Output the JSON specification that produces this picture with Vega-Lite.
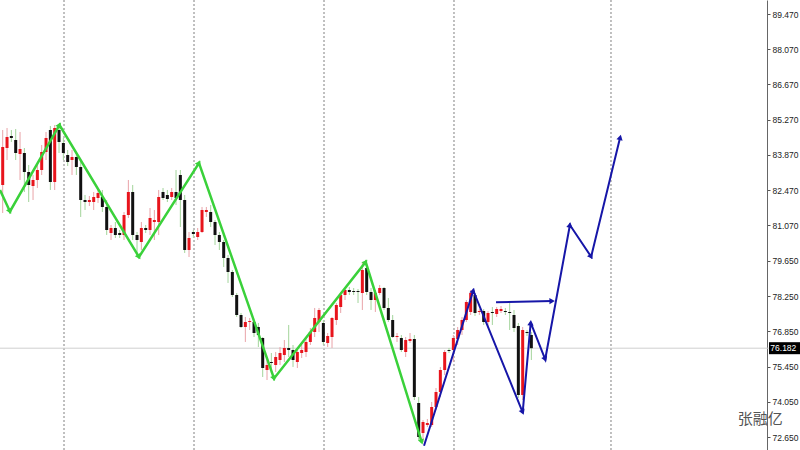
{
  "$schema": "https://vega.github.io/schema/vega-lite/v6.json",
  "width": 800,
  "height": 450,
  "autosize": {"type": "none"},
  "padding": 0,
  "background": "white",
  "config": {"view": {"stroke": null}, "font": "Liberation Sans", "axis": {"labelOverlap": false}},
  "datasets": {
    "candles": [
      {"t":0,"o":82.672,"h":84.858,"l":81.558,"c":84.182},
      {"t":1,"o":84.142,"h":84.938,"l":83.665,"c":84.580},
      {"t":2,"o":84.620,"h":84.858,"l":84.381,"c":84.540},
      {"t":3,"o":84.461,"h":84.898,"l":83.665,"c":83.944},
      {"t":4,"o":83.904,"h":84.779,"l":82.870,"c":84.103},
      {"t":5,"o":83.944,"h":84.142,"l":82.393,"c":83.188},
      {"t":6,"o":83.188,"h":83.467,"l":81.995,"c":82.672},
      {"t":7,"o":82.632,"h":83.069,"l":82.075,"c":82.870},
      {"t":8,"o":82.870,"h":83.467,"l":82.552,"c":83.268},
      {"t":9,"o":83.268,"h":84.262,"l":83.069,"c":83.983},
      {"t":10,"o":83.983,"h":84.779,"l":83.665,"c":84.540},
      {"t":11,"o":84.858,"h":85.017,"l":82.473,"c":82.791},
      {"t":12,"o":82.791,"h":85.057,"l":82.473,"c":84.938},
      {"t":13,"o":84.858,"h":85.057,"l":83.944,"c":84.381},
      {"t":14,"o":84.341,"h":84.540,"l":83.665,"c":83.944},
      {"t":15,"o":83.864,"h":84.063,"l":83.427,"c":83.586},
      {"t":16,"o":83.665,"h":84.063,"l":83.069,"c":83.785},
      {"t":17,"o":83.785,"h":83.983,"l":83.069,"c":83.387},
      {"t":18,"o":83.387,"h":83.665,"l":81.399,"c":82.075},
      {"t":19,"o":82.075,"h":82.274,"l":81.677,"c":81.995},
      {"t":20,"o":81.995,"h":82.234,"l":81.836,"c":82.075},
      {"t":21,"o":81.995,"h":82.393,"l":81.677,"c":82.194},
      {"t":22,"o":82.154,"h":82.552,"l":81.956,"c":82.353},
      {"t":23,"o":82.194,"h":82.473,"l":81.598,"c":81.797},
      {"t":24,"o":81.797,"h":82.075,"l":80.683,"c":80.882},
      {"t":25,"o":80.763,"h":81.081,"l":80.484,"c":80.962},
      {"t":26,"o":80.962,"h":81.200,"l":80.564,"c":80.683},
      {"t":27,"o":80.763,"h":80.882,"l":80.564,"c":80.683},
      {"t":28,"o":80.683,"h":81.598,"l":80.484,"c":81.479},
      {"t":29,"o":81.479,"h":82.870,"l":81.359,"c":82.393},
      {"t":30,"o":82.393,"h":82.672,"l":80.484,"c":80.683},
      {"t":31,"o":80.683,"h":80.803,"l":79.888,"c":80.484},
      {"t":32,"o":80.405,"h":81.200,"l":80.087,"c":80.962},
      {"t":33,"o":80.962,"h":81.081,"l":80.763,"c":80.882},
      {"t":34,"o":80.882,"h":81.757,"l":80.683,"c":81.359},
      {"t":35,"o":81.200,"h":81.677,"l":80.484,"c":81.280},
      {"t":36,"o":81.200,"h":82.473,"l":80.683,"c":82.194},
      {"t":37,"o":82.393,"h":82.552,"l":82.075,"c":82.154},
      {"t":38,"o":82.274,"h":82.473,"l":81.995,"c":82.115},
      {"t":39,"o":82.194,"h":82.552,"l":82.075,"c":82.393},
      {"t":40,"o":82.393,"h":83.268,"l":81.876,"c":82.154},
      {"t":41,"o":83.069,"h":83.268,"l":81.001,"c":82.075},
      {"t":42,"o":82.075,"h":82.274,"l":79.968,"c":80.087},
      {"t":43,"o":80.087,"h":80.803,"l":79.808,"c":80.564},
      {"t":44,"o":80.803,"h":80.882,"l":80.564,"c":80.723},
      {"t":45,"o":80.604,"h":80.962,"l":80.484,"c":80.803},
      {"t":46,"o":80.803,"h":81.797,"l":80.763,"c":81.677},
      {"t":47,"o":81.598,"h":81.797,"l":81.399,"c":81.677},
      {"t":48,"o":81.598,"h":81.876,"l":81.001,"c":81.200},
      {"t":49,"o":81.200,"h":81.280,"l":80.286,"c":80.683},
      {"t":50,"o":80.683,"h":80.803,"l":80.087,"c":80.405},
      {"t":51,"o":80.405,"h":80.484,"l":79.411,"c":79.769},
      {"t":52,"o":79.769,"h":79.888,"l":78.775,"c":79.212},
      {"t":53,"o":79.212,"h":79.291,"l":78.218,"c":78.298},
      {"t":54,"o":78.298,"h":78.377,"l":77.423,"c":77.502},
      {"t":55,"o":77.502,"h":77.582,"l":76.985,"c":77.025},
      {"t":56,"o":77.025,"h":77.423,"l":76.429,"c":77.224},
      {"t":57,"o":77.224,"h":77.383,"l":76.906,"c":77.264},
      {"t":58,"o":77.224,"h":77.303,"l":76.627,"c":76.786},
      {"t":59,"o":77.025,"h":77.184,"l":76.230,"c":76.707},
      {"t":60,"o":76.588,"h":76.627,"l":75.037,"c":75.395},
      {"t":61,"o":75.315,"h":75.713,"l":74.917,"c":75.514},
      {"t":62,"o":75.633,"h":75.991,"l":75.196,"c":75.594},
      {"t":63,"o":75.514,"h":76.031,"l":75.236,"c":75.832},
      {"t":64,"o":75.713,"h":76.230,"l":75.514,"c":75.991},
      {"t":65,"o":75.912,"h":76.508,"l":75.633,"c":76.190},
      {"t":66,"o":76.190,"h":77.105,"l":75.832,"c":76.110},
      {"t":67,"o":76.110,"h":76.309,"l":75.435,"c":75.713},
      {"t":68,"o":75.633,"h":76.190,"l":75.395,"c":76.031},
      {"t":69,"o":75.991,"h":76.309,"l":75.792,"c":76.110},
      {"t":70,"o":76.031,"h":76.588,"l":75.832,"c":76.429},
      {"t":71,"o":76.429,"h":76.985,"l":76.309,"c":76.826},
      {"t":72,"o":76.826,"h":77.781,"l":76.627,"c":77.383},
      {"t":73,"o":77.224,"h":77.781,"l":76.826,"c":77.701},
      {"t":74,"o":77.184,"h":77.303,"l":76.309,"c":76.429},
      {"t":75,"o":76.389,"h":76.786,"l":76.230,"c":76.667},
      {"t":76,"o":76.627,"h":77.423,"l":76.190,"c":77.383},
      {"t":77,"o":77.303,"h":77.979,"l":77.105,"c":77.900},
      {"t":78,"o":77.820,"h":78.417,"l":77.582,"c":78.298},
      {"t":79,"o":78.298,"h":78.576,"l":78.098,"c":78.496},
      {"t":80,"o":78.496,"h":78.616,"l":78.298,"c":78.417},
      {"t":81,"o":78.457,"h":78.576,"l":78.298,"c":78.417},
      {"t":82,"o":78.457,"h":78.536,"l":77.979,"c":78.417},
      {"t":83,"o":78.377,"h":79.610,"l":77.701,"c":79.291},
      {"t":84,"o":79.371,"h":79.490,"l":78.298,"c":78.417},
      {"t":85,"o":78.417,"h":78.576,"l":77.701,"c":78.098},
      {"t":86,"o":78.098,"h":78.496,"l":77.622,"c":78.377},
      {"t":87,"o":78.377,"h":78.695,"l":78.298,"c":78.576},
      {"t":88,"o":78.576,"h":78.616,"l":77.701,"c":77.781},
      {"t":89,"o":77.781,"h":78.178,"l":77.224,"c":77.303},
      {"t":90,"o":77.303,"h":77.502,"l":76.588,"c":76.627},
      {"t":91,"o":76.627,"h":76.786,"l":76.429,"c":76.667},
      {"t":92,"o":76.588,"h":76.707,"l":76.031,"c":76.110},
      {"t":93,"o":76.031,"h":76.627,"l":75.832,"c":76.508},
      {"t":94,"o":76.468,"h":76.786,"l":76.389,"c":76.548},
      {"t":95,"o":76.548,"h":76.707,"l":74.122,"c":74.241},
      {"t":96,"o":74.003,"h":74.241,"l":72.531,"c":72.651},
      {"t":97,"o":72.809,"h":73.327,"l":72.452,"c":73.247},
      {"t":98,"o":73.128,"h":73.366,"l":73.048,"c":73.207},
      {"t":99,"o":73.128,"h":74.043,"l":73.048,"c":73.844},
      {"t":100,"o":73.844,"h":74.599,"l":73.724,"c":74.440},
      {"t":101,"o":74.440,"h":75.435,"l":74.241,"c":75.315},
      {"t":102,"o":75.315,"h":76.110,"l":75.116,"c":76.031},
      {"t":103,"o":76.110,"h":76.190,"l":75.991,"c":76.071},
      {"t":104,"o":76.110,"h":76.707,"l":75.633,"c":76.588},
      {"t":105,"o":76.548,"h":77.025,"l":76.309,"c":76.906},
      {"t":106,"o":76.906,"h":77.423,"l":76.707,"c":77.303},
      {"t":107,"o":77.303,"h":78.098,"l":77.224,"c":78.019},
      {"t":108,"o":77.622,"h":78.496,"l":77.502,"c":78.377},
      {"t":109,"o":78.298,"h":78.377,"l":77.463,"c":77.582},
      {"t":110,"o":77.622,"h":77.741,"l":77.502,"c":77.661},
      {"t":111,"o":77.661,"h":77.741,"l":77.105,"c":77.224},
      {"t":112,"o":77.224,"h":77.661,"l":77.025,"c":77.582},
      {"t":113,"o":77.622,"h":77.820,"l":77.105,"c":77.582},
      {"t":114,"o":77.542,"h":77.820,"l":77.423,"c":77.741},
      {"t":115,"o":77.661,"h":77.860,"l":77.582,"c":77.741},
      {"t":116,"o":77.661,"h":77.781,"l":77.502,"c":77.622},
      {"t":117,"o":77.622,"h":77.979,"l":76.906,"c":77.582},
      {"t":118,"o":77.502,"h":77.701,"l":76.826,"c":76.985},
      {"t":119,"o":77.065,"h":77.184,"l":74.202,"c":74.321},
      {"t":120,"o":74.321,"h":77.025,"l":74.122,"c":76.906},
      {"t":121,"o":76.826,"h":76.906,"l":76.667,"c":76.786},
      {"t":122,"o":76.707,"h":76.826,"l":75.713,"c":76.182}
    ],
    "zigzag": [
      {"seg":"g","k":0,"t":-0.62,"p":82.473},
      {"seg":"g","k":1,"t":1.68,"p":81.618},
      {"seg":"g","k":2,"t":13.11,"p":85.057},
      {"seg":"g","k":3,"t":31.45,"p":79.808},
      {"seg":"g","k":4,"t":45.3,"p":83.546},
      {"seg":"g","k":5,"t":62.61,"p":74.977},
      {"seg":"g","k":6,"t":83.77,"p":79.609},
      {"seg":"g","k":7,"t":96.7,"p":72.452}
    ],
    "forecast": [
      {"seg":"b1","k":0,"t":97.23,"p":72.305},
      {"seg":"b1","k":1,"t":108.6,"p":78.468},
      {"seg":"b1","k":2,"t":120.0,"p":73.633},
      {"seg":"b1","k":3,"t":121.85,"p":77.196},
      {"seg":"b1","k":4,"t":125.2,"p":75.741},
      {"seg":"b1","k":5,"t":130.9,"p":81.081},
      {"seg":"b1","k":6,"t":135.8,"p":79.820},
      {"seg":"b1","k":7,"t":142.5,"p":84.568},
      {"seg":"b2","k":0,"t":113.85,"p":78.007},
      {"seg":"b2","k":1,"t":126.8,"p":78.059}
    ],
    "sessions": [{"t":14.15},{"t":44.15},{"t":74.15},{"t":104.15},{"t":140.38}],
    "last": [{"p":76.182}]
  },
  "resolve": {"axis": {"y": "independent"}},
  "layer": [
    {
      "data": {"name": "sessions"},
      "mark": {"type": "rule", "color": "#808080", "strokeWidth": 1, "strokeDash": [2, 2]},
      "encoding": {
        "x": {"field": "t", "type": "quantitative", "scale": {"domain": [-0.623, 184.0], "nice": false, "zero": false, "padding": 0}, "axis": null}
      }
    },
    {
      "data": {"name": "last"},
      "mark": {"type": "rule", "color": "#cfcfcf", "strokeWidth": 1},
      "encoding": {
        "y": {"field": "p", "type": "quantitative", "scale": {"domain": [72.134, 90.027], "nice": false, "zero": false, "padding": 0},
          "axis": {"orient": "right", "offset": -33, "title": null, "grid": false, "labelOverlap": false,
            "values": [72.65, 74.05, 75.45, 76.85, 78.25, 79.65, 81.07, 82.47, 83.87, 85.27, 86.67, 88.07, 89.47],
            "format": ".3f", "labelFont": "Liberation Sans", "labelFontSize": 8.5, "labelColor": "#222222",
            "labelPadding": 2, "tickSize": 3, "tickColor": "#555555", "domainColor": "#666666", "domainWidth": 1}}
      }
    },
    {
      "data": {"name": "candles"},
      "mark": {"type": "rule", "strokeWidth": 1},
      "encoding": {
        "x": {"field": "t", "type": "quantitative", "axis": null},
        "y": {"field": "l", "type": "quantitative", "axis": null},
        "y2": {"field": "h"},
        "color": {"condition": {"test": "datum.c >= datum.o", "value": "#e9a3a8"}, "value": "#a3d49b"}
      }
    },
    {
      "data": {"name": "candles"},
      "mark": {"type": "bar", "width": 3},
      "encoding": {
        "x": {"field": "t", "type": "quantitative", "axis": null},
        "y": {"field": "o", "type": "quantitative", "axis": null},
        "y2": {"field": "c"},
        "color": {"condition": {"test": "datum.c >= datum.o", "value": "#e8141c"}, "value": "#111111"}
      }
    },
    {
      "data": {"name": "zigzag"},
      "mark": {"type": "line", "color": "#3ad13a", "strokeWidth": 2.5, "clip": true},
      "encoding": {
        "x": {"field": "t", "type": "quantitative", "axis": null},
        "y": {"field": "p", "type": "quantitative", "axis": null},
        "order": {"field": "k"},
        "detail": {"field": "seg"}
      }
    },
    {
      "data": {"name": "zigzag"},
      "transform": [
        {"window": [{"op": "lag", "field": "t", "as": "pt"}, {"op": "lag", "field": "p", "as": "pp"}], "groupby": ["seg"], "sort": [{"field": "k"}]},
        {"filter": "datum.pt != null"},
        {"calculate": "atan2((datum.t - datum.pt) * 4.3331, (datum.p - datum.pp) * 25.15) * 180 / PI", "as": "heading"}
      ],
      "mark": {"type": "point", "shape": "triangle-up", "filled": true, "color": "#3ad13a", "size": 40, "opacity": 1},
      "encoding": {
        "x": {"field": "t", "type": "quantitative", "axis": null},
        "y": {"field": "p", "type": "quantitative", "axis": null},
        "angle": {"field": "heading", "type": "quantitative", "scale": null}
      }
    },
    {
      "data": {"name": "forecast"},
      "mark": {"type": "line", "color": "#1616a8", "strokeWidth": 2, "clip": true},
      "encoding": {
        "x": {"field": "t", "type": "quantitative", "axis": null},
        "y": {"field": "p", "type": "quantitative", "axis": null},
        "order": {"field": "k"},
        "detail": {"field": "seg"}
      }
    },
    {
      "data": {"name": "forecast"},
      "transform": [
        {"window": [{"op": "lag", "field": "t", "as": "pt"}, {"op": "lag", "field": "p", "as": "pp"}], "groupby": ["seg"], "sort": [{"field": "k"}]},
        {"filter": "datum.pt != null"},
        {"calculate": "atan2((datum.t - datum.pt) * 4.3331, (datum.p - datum.pp) * 25.15) * 180 / PI", "as": "heading"}
      ],
      "mark": {"type": "point", "shape": "triangle-up", "filled": true, "color": "#1616a8", "size": 40, "opacity": 1},
      "encoding": {
        "x": {"field": "t", "type": "quantitative", "axis": null},
        "y": {"field": "p", "type": "quantitative", "axis": null},
        "angle": {"field": "heading", "type": "quantitative", "scale": null}
      }
    },
    {
      "data": {"name": "last"},
      "mark": {"type": "bar", "orient": "horizontal", "height": 12, "color": "#000000"},
      "encoding": {
        "x": {"datum": 176.85, "type": "quantitative", "axis": null},
        "x2": {"datum": 184.0},
        "y": {"field": "p", "type": "quantitative", "axis": null}
      }
    },
    {
      "data": {"name": "last"},
      "mark": {"type": "text", "color": "#ffffff", "align": "left", "baseline": "middle", "font": "Liberation Sans", "fontSize": 8.5},
      "encoding": {
        "x": {"datum": 177.15, "type": "quantitative", "axis": null},
        "y": {"field": "p", "type": "quantitative", "axis": null},
        "text": {"field": "p", "format": ".3f"}
      }
    },
    {
      "data": {"values": [{"name": "张融亿"}]},
      "mark": {"type": "text", "font": "Noto Sans CJK SC", "fontSize": 15, "color": "#555555", "align": "center", "baseline": "middle"},
      "encoding": {
        "x": {"datum": 174.8, "type": "quantitative", "axis": null},
        "y": {"datum": 73.36, "type": "quantitative", "axis": null},
        "text": {"field": "name"}
      }
    }
  ]
}
